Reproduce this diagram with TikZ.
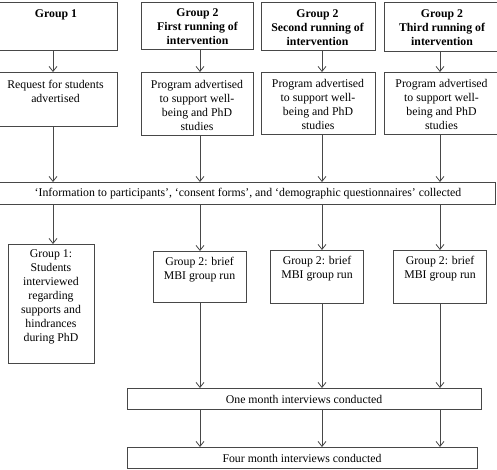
\documentclass[tikz,border=0pt]{standalone}
\usepackage{fontspec}
\setmainfont{Liberation Serif}
\usetikzlibrary{arrows.meta}
\begin{document}
\begin{tikzpicture}[x=1pt,y=-1pt,
  ln/.style={draw=black!72, line width=0.8pt},
  box/.style={ln, inner sep=0pt, anchor=north west},
  txt/.style={inner sep=0pt, align=center, font=\fontsize{11.8}{14}\selectfont},
  btxt/.style={txt, font=\fontsize{11.8}{14}\selectfont\bfseries},
  arr/.style={ln, -{Straight Barb[length=5pt,width=8pt]}}]
\useasboundingbox (0,0) rectangle (497,469);
% column coordinates
\coordinate (c1) at (53,0);
\coordinate (c2) at (200,0);
\coordinate (c3) at (322,0);
\coordinate (c4) at (440,0);
% top row
\node[box, minimum width=127pt, minimum height=48pt] (g1) at (-10,2) {};
\node[box, minimum width=112pt, minimum height=47pt] (g2a) at (141,2) {};
\node[box, minimum width=114pt, minimum height=48pt] (g2b) at (261,2) {};
\node[box, minimum width=114pt, minimum height=49pt] (g2c) at (384,2) {};
\node[btxt] (g1t) at (56,14.5) {Group 1};
\node[btxt] (g2at) at (197.5,27) {Group 2\\First running of\\intervention};
\node[btxt] (g2bt) at (317.5,27.5) {Group 2\\Second running of\\intervention};
\node[btxt] (g2ct) at (442,27.5) {Group 2\\Third running of\\intervention};
% second row
\node[box, minimum width=127pt, minimum height=54pt] (r1) at (-10,72) {};
\node[box, minimum width=112pt, minimum height=63pt] (r2a) at (141,72) {};
\node[box, minimum width=114pt, minimum height=62pt] (r2b) at (261,72) {};
\node[box, minimum width=114pt, minimum height=62pt] (r2c) at (384,72) {};
\node[txt] (r1t) at (55.5,91) {Request for students\\advertised};
\node[txt] (r2at) at (197,105) {Program advertised\\to support well-\\being and PhD\\studies};
\node[txt] (r2bt) at (318,104.5) {Program advertised\\to support well-\\being and PhD\\studies};
\node[txt] (r2ct) at (441.5,104.5) {Program advertised\\to support well-\\being and PhD\\studies};
% information box
\node[box, minimum width=505pt, minimum height=22pt] (info) at (-10,182) {};
\node[txt] (infot) at (248,194) {‘Information to participants’, ‘consent forms’, and ‘demographic questionnaires’ collected};
% third row
\node[box, minimum width=86pt, minimum height=119pt] (b1) at (8,244) {};
\node[box, minimum width=93pt, minimum height=51pt] (b2a) at (153,251) {};
\node[box, minimum width=93pt, minimum height=53pt] (b2b) at (270,250) {};
\node[box, minimum width=93pt, minimum height=53pt] (b2c) at (393,250) {};
\node[txt] (b1t) at (51,297) {Group 1:\\Students\\interviewed\\regarding\\supports and\\hindrances\\during PhD};
\node[txt] (b2at) at (199.5,270) {Group 2: brief\\MBI group run};
\node[txt] (b2bt) at (317,269) {Group 2: brief\\MBI group run};
\node[txt] (b2ct) at (440,269) {Group 2: brief\\MBI group run};
% bottom boxes
\node[box, minimum width=354pt, minimum height=21pt] (one) at (127,388) {};
\node[box, minimum width=350pt, minimum height=21pt] (four) at (127,447) {};
\node[txt] (onet) at (304,399) {One month interviews conducted};
\node[txt] (fourt) at (302,458) {Four month interviews conducted};
% arrows top -> second row
\draw[arr] (g1.south -| c1) -- (r1.north -| c1);
\draw[arr] (g2a.south -| c2) -- (r2a.north -| c2);
\draw[arr] (g2b.south -| c3) -- (r2b.north -| c3);
\draw[arr] (g2c.south -| c4) -- (r2c.north -| c4);
% second row -> info
\draw[arr] (r1.south -| c1) -- (info.north -| c1);
\draw[arr] (r2a.south -| c2) -- (info.north -| c2);
\draw[arr] (r2b.south -| c3) -- (info.north -| c3);
\draw[arr] (r2c.south -| c4) -- (info.north -| c4);
% info -> third row
\draw[arr] (info.south -| c1) -- (b1.north -| c1);
\draw[arr] (info.south -| c2) -- (b2a.north -| c2);
\draw[arr] (info.south -| c3) -- (b2b.north -| c3);
\draw[arr] (info.south -| c4) -- (b2c.north -| c4);
% third row -> one month
\draw[arr] (b2a.south -| c2) -- (one.north -| c2);
\draw[arr] (b2b.south -| c3) -- (one.north -| c3);
\draw[arr] (b2c.south -| c4) -- (one.north -| c4);
% one month -> four month
\draw[arr] (one.south -| c2) -- (four.north -| c2);
\draw[arr] (one.south -| c3) -- (four.north -| c3);
\draw[arr] (one.south -| c4) -- (four.north -| c4);
\end{tikzpicture}
\end{document}
